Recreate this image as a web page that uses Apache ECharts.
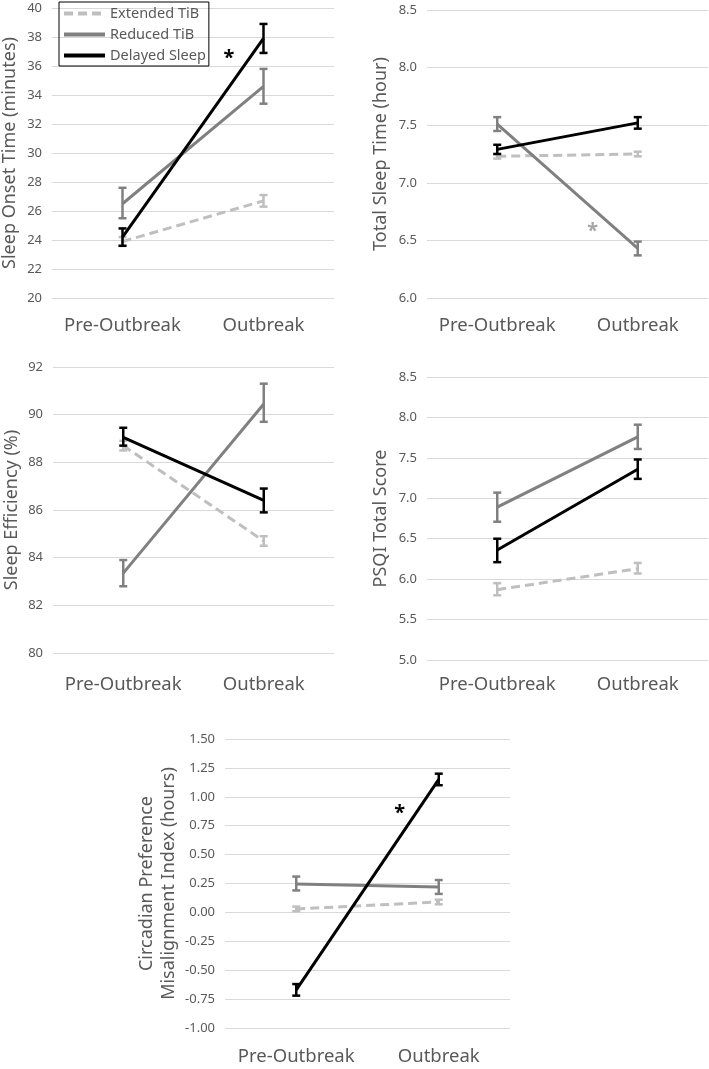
<!DOCTYPE html>
<html>
<head>
<meta charset="utf-8">
<script src="https://cdn.jsdelivr.net/npm/echarts@6/dist/echarts.min.js"></script>
<style>html,body{margin:0;padding:0;background:#fff}#c{width:709px;height:1069px}</style>
</head>
<body>
<div id="c"></div>
<script>
// ---- data ----
const categories = ['Pre-Outbreak', 'Outbreak'];
const seriesNames = ['Extended TiB', 'Reduced TiB', 'Delayed Sleep'];

// Sleep Onset Time (minutes): [Extended, Reduced, Delayed], each [pre, outbreak]
const sotMeans = [[23.9, 26.7], [26.5, 34.6], [24.2, 37.9]];
const sotLow   = [[23.6, 26.3], [25.5, 33.4], [23.6, 36.9]];
const sotHigh  = [[24.2, 27.1], [27.6, 35.8], [24.8, 38.9]];
const sotStar  = [0.755, 36.8];

// Total Sleep Time (hour)
const tstMeans = [[7.23, 7.25], [7.51, 6.43], [7.29, 7.52]];
const tstLow   = [[7.21, 7.23], [7.45, 6.37], [7.25, 7.47]];
const tstHigh  = [[7.25, 7.27], [7.57, 6.49], [7.33, 7.57]];
const tstStar  = [0.68, 6.61];

// Sleep Efficiency (%)
const seMeans = [[88.7, 84.7], [83.35, 90.45], [89.05, 86.4]];
const seLow   = [[88.5, 84.5], [82.8, 89.7], [88.7, 85.9]];
const seHigh  = [[88.9, 84.9], [83.9, 91.3], [89.45, 86.9]];

// PSQI Total Score
const psqiMeans = [[5.87, 6.13], [6.89, 7.76], [6.36, 7.36]];
const psqiLow   = [[5.80, 6.07], [6.71, 7.61], [6.21, 7.24]];
const psqiHigh  = [[5.95, 6.20], [7.07, 7.91], [6.50, 7.48]];

// Circadian Preference Misalignment Index (hours)
const cpmiMeans = [[0.03, 0.09], [0.245, 0.22], [-0.67, 1.15]];
const cpmiLow   = [[0.01, 0.07], [0.19, 0.16], [-0.72, 1.10]];
const cpmiHigh  = [[0.05, 0.11], [0.31, 0.28], [-0.62, 1.20]];
const cpmiStar  = [0.725, 0.895];

// y-axis ticks: [min, max, interval, decimals]
const sotTicks  = [20, 40, 2, 0];
const tstTicks  = [6.0, 8.5, 0.5, 1];
const seTicks   = [80, 92, 2, 0];
const psqiTicks = [5.0, 8.5, 0.5, 1];
const cpmiTicks = [-1.0, 1.5, 0.25, 2];

// ---- styling / layout ----
const colors = ['#bfbfbf', '#808080', '#000000'];
const lineTypes = [[9, 5], 'solid', 'solid'];
const FONT = 'Noto Sans';
const TXT = '#595959';

const panels = [
  {means: sotMeans, low: sotLow, high: sotHigh, ticks: sotTicks, name: 'Sleep Onset Time (minutes)',
   grid: {left: 52, top: 8, width: 282, height: 290}, nameGap: 31, labelMargin: 18, star: sotStar, starColor: '#000'},
  {means: tstMeans, low: tstLow, high: tstHigh, ticks: tstTicks, name: 'Total Sleep Time (hour)',
   grid: {left: 427, top: 10, width: 281, height: 288}, nameGap: 35, labelMargin: 18, star: tstStar, starColor: '#a6a6a6'},
  {means: seMeans, low: seLow, high: seHigh, ticks: seTicks, name: 'Sleep Efficiency (%)',
   grid: {left: 53, top: 367, width: 281, height: 286}, nameGap: 30, labelMargin: 22, star: null},
  {means: psqiMeans, low: psqiLow, high: psqiHigh, ticks: psqiTicks, name: 'PSQI Total Score',
   grid: {left: 427, top: 377, width: 281, height: 283}, nameGap: 35, labelMargin: 15, star: null},
  {means: cpmiMeans, low: cpmiLow, high: cpmiHigh, ticks: cpmiTicks, name: 'Circadian Preference\nMisalignment Index (hours)',
   grid: {left: 225, top: 739, width: 285, height: 289}, nameGap: 45, labelMargin: 19, star: cpmiStar, starColor: '#000'}
];

const grid = [], xAxis = [], yAxis = [], series = [];

panels.forEach((p, i) => {
  grid.push(Object.assign({containLabel: false, outerBoundsMode: 'none'}, p.grid));
  xAxis.push({
    type: 'category', gridIndex: i, data: categories, boundaryGap: true,
    axisLine: {show: false}, axisTick: {show: false}, splitLine: {show: false},
    axisLabel: {color: TXT, fontSize: 18.5, fontFamily: FONT, margin: p.labelMargin, interval: 0}
  });
  const [mn, mx, iv, dec] = p.ticks;
  yAxis.push({
    type: 'value', gridIndex: i, min: mn, max: mx, interval: iv,
    axisLine: {show: false}, axisTick: {show: false},
    splitLine: {lineStyle: {color: '#d9d9d9', width: 1}},
    axisLabel: {color: TXT, fontSize: 13, fontFamily: FONT, margin: 10,
      formatter: v => v.toFixed(dec)},
    name: p.name, nameLocation: 'middle', nameGap: p.nameGap, nameRotate: 90,
    nameTextStyle: {color: TXT, fontSize: 18, fontFamily: FONT, lineHeight: 22}
  });
  for (let k = 0; k < 3; k++) {
    series.push({
      type: 'line', name: seriesNames[k], xAxisIndex: i, yAxisIndex: i,
      data: p.means[k], symbol: 'none', showSymbol: false, z: 2 + k,
      lineStyle: {color: colors[k], width: 3, type: lineTypes[k]},
      itemStyle: {color: colors[k]}
    });
    const errData = categories.map((c, j) => [j, p.low[k][j], p.high[k][j]]);
    const col = colors[k];
    series.push({
      type: 'custom', xAxisIndex: i, yAxisIndex: i, z: 2 + k,
      data: errData, encode: {x: 0, y: [1, 2]},
      renderItem: (params, api) => {
        const x = api.value(0);
        const a = api.coord([x, api.value(1)]);
        const b = api.coord([x, api.value(2)]);
        const w = 4;
        const st = {stroke: col, lineWidth: 2.5};
        return {type: 'group', children: [
          {type: 'line', shape: {x1: a[0], y1: a[1], x2: b[0], y2: b[1]}, style: st},
          {type: 'line', shape: {x1: a[0] - w, y1: a[1], x2: a[0] + w, y2: a[1]}, style: st},
          {type: 'line', shape: {x1: b[0] - w, y1: b[1], x2: b[0] + w, y2: b[1]}, style: st}
        ]};
      }
    });
  }
  if (p.star) {
    const sc = p.starColor;
    series.push({
      type: 'custom', xAxisIndex: i, yAxisIndex: i, z: 10,
      data: [[0, p.star[1], p.star[0]]], encode: {x: 0, y: 1},
      renderItem: (params, api) => {
        const v = api.value(1), t = api.value(2);
        const a = api.coord([0, v]), b = api.coord([1, v]);
        return {type: 'text', x: a[0] + t * (b[0] - a[0]), y: a[1] + 4,
          style: {text: '*', fill: sc, font: 'bold 20px ' + FONT, align: 'center', verticalAlign: 'middle'}};
      }
    });
  }
});

const chart = echarts.init(document.getElementById('c'));
chart.setOption({
  animation: false,
  backgroundColor: '#fff',
  grid, xAxis, yAxis, series,
  legend: {
    data: seriesNames, orient: 'vertical', left: 59, top: 2,
    itemWidth: 41, itemHeight: 14, itemGap: 6, padding: [4, 3, 3, 3],
    borderColor: '#000', borderWidth: 1, selectedMode: false,
    itemStyle: {color: 'rgba(0,0,0,0)', borderWidth: 0, opacity: 0},
    lineStyle: {width: 4},
    textStyle: {color: TXT, fontSize: 14.5, fontFamily: FONT}
  }
});
</script>
</body>
</html>
